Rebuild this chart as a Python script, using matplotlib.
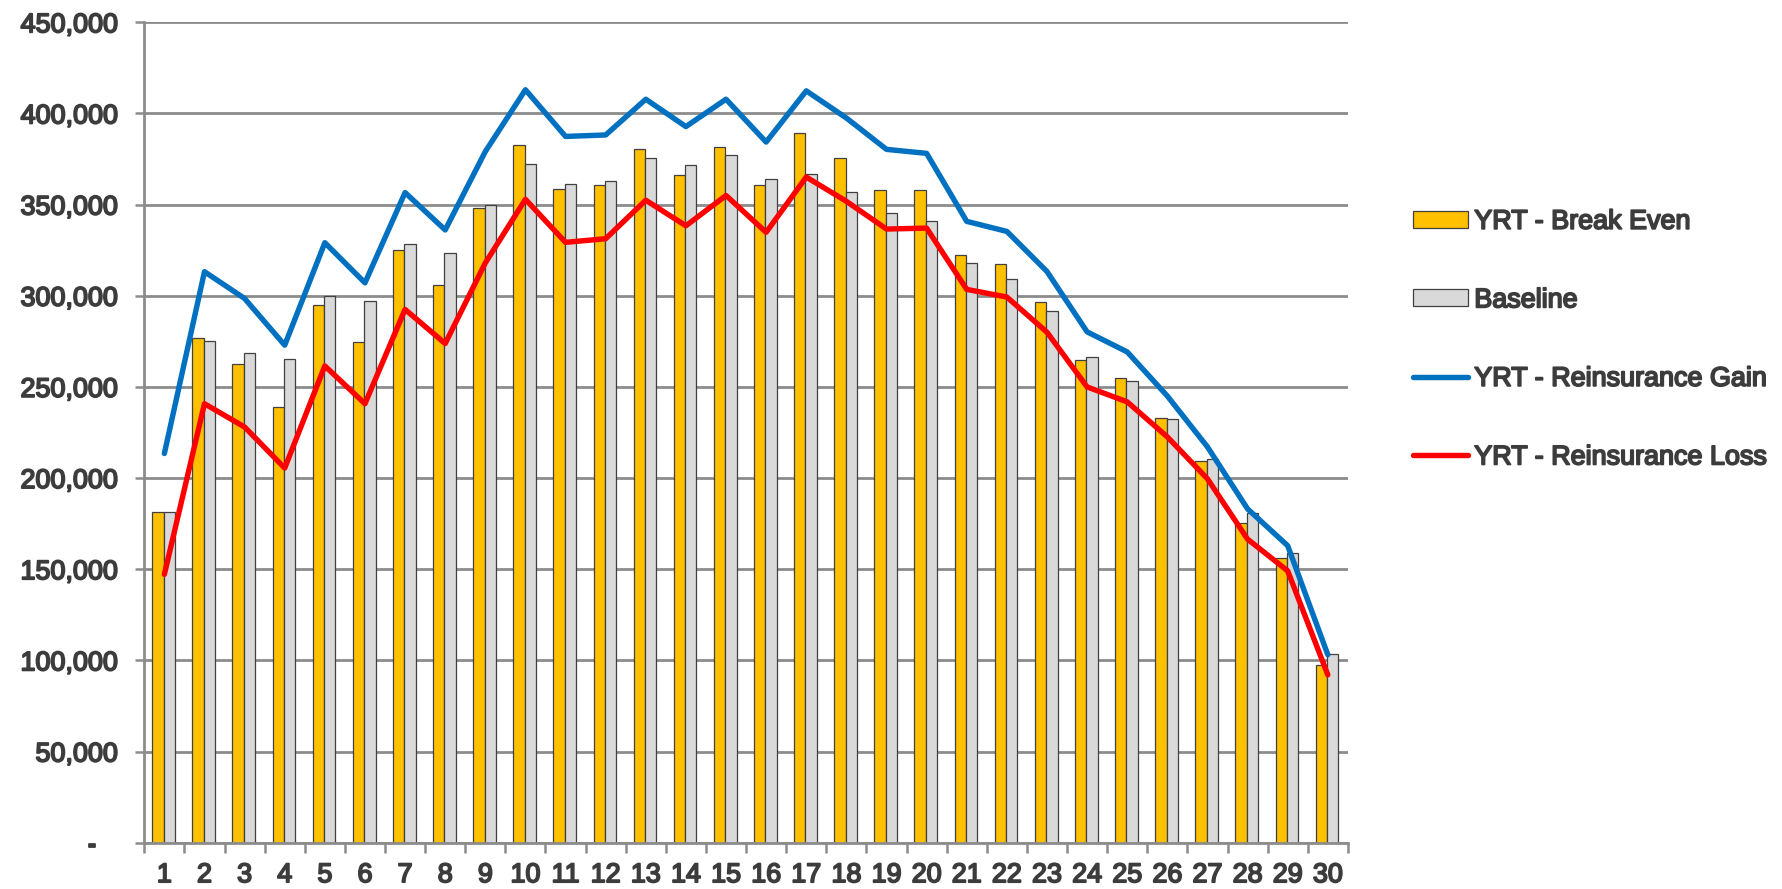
import matplotlib
matplotlib.use("Agg")
import matplotlib.pyplot as plt
import matplotlib.patheffects as pe
import numpy as np
from matplotlib.ticker import FuncFormatter, MultipleLocator

categories = list(range(1, 31))

break_even = [181600, 277100, 262300, 239200, 294900, 274400, 325100, 305900, 348000, 382600,
              358700, 360500, 380300, 366000, 381400, 360500, 389100, 375300, 358100, 358100,
              322100, 317300, 296800, 265000, 255100, 233000, 209200, 175200, 156300, 97600]
baseline = [181600, 275100, 268700, 265200, 300000, 296900, 328400, 323400, 350000, 372200,
            361500, 363200, 375300, 371700, 377200, 363800, 366700, 356800, 345400, 341200,
            317900, 309400, 291800, 266600, 253000, 232500, 210700, 180900, 159000, 103700]
reins_gain = [213500, 313200, 298500, 272900, 329100, 307100, 356600, 336100, 379100, 413000,
              387400, 388200, 407800, 392800, 407800, 384300, 412400, 397500, 380300, 378100,
              340800, 335300, 313300, 280200, 269200, 245000, 217100, 183100, 162900, 103100]
reins_loss = [147200, 240800, 228000, 205500, 261500, 240800, 292500, 273800, 318000, 352900,
              329300, 331300, 352400, 338400, 355000, 334800, 365100, 351800, 336600, 337100,
              303500, 299300, 280000, 250000, 241800, 222600, 199600, 166500, 149100, 92100]

series_names = ["YRT - Break Even", "Baseline", "YRT - Reinsurance Gain", "YRT - Reinsurance Loss"]

TEXT = "#3c3c3c"
GRID = "#8c8c8c"
FS = 19.4
plt.rcParams['font.family'] = ['Liberation Sans', 'DejaVu Sans']
thick = [pe.withStroke(linewidth=1.3, foreground=TEXT)]

fig = plt.figure(figsize=(17.82, 8.89), dpi=100)
ax = fig.add_axes([0.08098, 0.05208, 0.6754, 0.92284])

x = np.arange(1, 31)
bw = 0.283
ax.bar(x - bw / 2 - 0.02, break_even, width=bw, color="#FFC000", edgecolor="#404040",
       linewidth=0.9, label=series_names[0], zorder=2)
ax.bar(x + bw / 2 - 0.02, baseline, width=bw, color="#D9D9D9", edgecolor="#404040",
       linewidth=0.9, label=series_names[1], zorder=2)
ax.plot(x, reins_gain, color="#0070C0", lw=3.9, label=series_names[2], zorder=3,
        solid_joinstyle='round', solid_capstyle='round')
ax.plot(x, reins_loss, color="#FF0000", lw=3.9, label=series_names[3], zorder=4,
        solid_joinstyle='round', solid_capstyle='round')

ax.set_xlim(0.5, 30.5)
ax.set_ylim(0, 450000)
ax.yaxis.set_major_locator(MultipleLocator(50000))
ax.yaxis.set_major_formatter(FuncFormatter(lambda v, p: "-  \u2009" if v == 0 else f"{int(v):,}"))
ax.set_xticks(x)
ax.set_xticklabels([str(c) for c in categories])
ax.set_xticks(np.arange(0.5, 31, 1), minor=True)
ax.tick_params(axis='x', which='major', length=0, pad=14, labelsize=FS, labelcolor=TEXT)
ax.tick_params(axis='x', which='minor', length=7.5, width=1.8, color=GRID, direction='out')
ax.tick_params(axis='y', which='major', length=6.5, width=1.8, color=GRID, pad=13,
               labelsize=FS, labelcolor=TEXT)
for t in ax.get_xticklabels() + ax.get_yticklabels():
    t.set_path_effects(thick)

ax.grid(axis='y', color=GRID, linewidth=2.0, zorder=0)
ax.set_axisbelow(True)
for s in ['top', 'right']:
    ax.spines[s].set_visible(False)
for s in ['left', 'bottom']:
    ax.spines[s].set_color(GRID)
    ax.spines[s].set_linewidth(2.0)

handles, labels = ax.get_legend_handles_labels()
order = [2, 3, 0, 1]
h = [handles[i] for i in order]
l = [labels[i] for i in order]
leg = fig.legend(h, l, loc='center left', bbox_to_anchor=(0.793, 0.618), frameon=False,
                 fontsize=FS, labelcolor=TEXT, borderpad=0, borderaxespad=0,
                 handlelength=2.05, handletextpad=0.22, labelspacing=1.95, handleheight=0.6)
for t in leg.get_texts():
    t.set_path_effects(thick)

fig.savefig("out.png", dpi=100)
